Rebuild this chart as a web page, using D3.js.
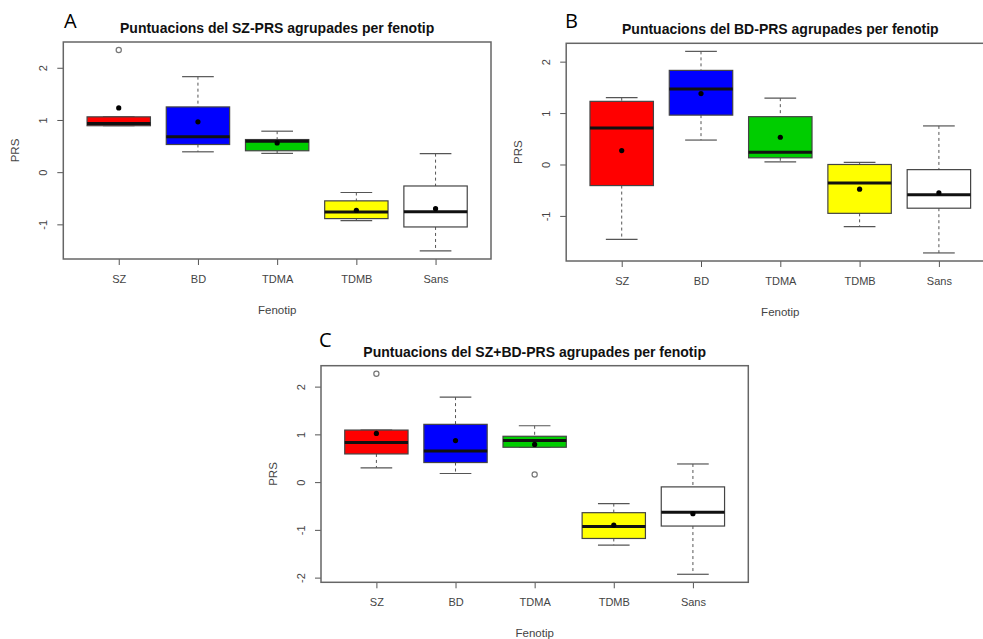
<!DOCTYPE html>
<html>
<head>
<meta charset="utf-8">
<script src="https://cdn.jsdelivr.net/npm/d3@7"></script>
<style>
  body { margin: 0; background: #fff; }
  svg { display: block; font-family: "Liberation Sans", Arial, sans-serif; }
</style>
</head>
<body>
<div id="chart"></div>
<script>
// groups on the x axis, same for the three panels
const groups = ["SZ", "BD", "TDMA", "TDMB", "Sans"];
const fills = ["#ff0000", "#0000ff", "#00cd00", "#ffff00", "#ffffff"];

// A: SZ-PRS
const szLow  = [0.89, 0.39, 0.36, -0.93, -1.51];
const szQ1   = [0.89, 0.53, 0.41, -0.89, -1.05];
const szMed  = [0.93, 0.68, 0.59, -0.765, -0.76];
const szQ3   = [1.06, 1.25, 0.625, -0.55, -0.265];
const szHigh = [1.06, 1.83, 0.785, -0.39, 0.355];
const szMean = [1.23, 0.965, 0.56, -0.73, -0.70];
const szOut  = [[2.34], [], [], [], []];

// B: BD-PRS
const bdLow  = [-1.455, 0.475, 0.05, -1.21, -1.72];
const bdQ1   = [-0.41, 0.96, 0.13, -0.95, -0.85];
const bdMed  = [0.71, 1.47, 0.24, -0.36, -0.59];
const bdQ3   = [1.228, 1.83, 0.93, 0.0, -0.10];
const bdHigh = [1.30, 2.20, 1.29, 0.04, 0.75];
const bdMean = [0.27, 1.38, 0.53, -0.48, -0.55];
const bdOut  = [[], [], [], [], []];

// C: SZ+BD-PRS
const mixLow  = [0.30, 0.18, 0.73, -1.32, -1.93];
const mixQ1   = [0.59, 0.41, 0.73, -1.18, -0.92];
const mixMed  = [0.83, 0.65, 0.87, -0.93, -0.63];
const mixQ3   = [1.09, 1.21, 0.96, -0.64, -0.10];
const mixHigh = [1.09, 1.78, 1.18, -0.45, 0.38];
const mixMean = [1.02, 0.87, 0.79, -0.90, -0.66];
const mixOut  = [[2.27], [], [0.16], [], []];

const yTicks = [-2, -1, 0, 1, 2];

const svg = d3.select("#chart")
  .append("svg")
    .attr("width", 983)
    .attr("height", 639);

function buildRows(low, q1, med, q3, high, mean, out) {
  return groups.map((g, i) => ({
    group: g, i: i + 1, fill: fills[i],
    low: low[i], q1: q1[i], med: med[i], q3: q3[i], high: high[i],
    mean: mean[i], out: out[i]
  }));
}

function drawPanel(p) {
  const rows = p.rows;
  const x0 = p.left, x1 = p.left + p.width, y0 = p.top, y1 = p.top + p.height;

  // y range like R: data extremes padded by 4%
  const lo = d3.min(rows, d => d3.min([d.low, ...d.out]));
  const hi = d3.max(rows, d => d3.max([d.high, ...d.out]));
  const pad = (hi - lo) * 0.04;
  const y = d3.scaleLinear().domain([lo - pad, hi + pad]).range([y1, y0]);
  const x = d3.scaleLinear().domain([0.3, 5.7]).range([x0, x1]);
  const boxW = (x(2) - x(1)) * 0.8;

  const g = svg.append("g");

  // x axis
  const xAxis = g.append("g")
    .attr("transform", `translate(0,${y1})`)
    .call(d3.axisBottom(x).tickValues([1, 2, 3, 4, 5])
      .tickFormat(i => groups[i - 1]).tickSize(6).tickPadding(10));
  xAxis.select(".domain").remove();
  xAxis.selectAll("line").attr("stroke", "#555");
  xAxis.selectAll("text").attr("fill", "#444").style("font-size", "11px")
    .style("font-family", "Liberation Sans, Arial, sans-serif");

  // y axis, labels turned like R's las = 0
  const yAxis = g.append("g")
    .attr("transform", `translate(${x0},0)`)
    .call(d3.axisLeft(y).tickValues(yTicks.filter(t => t >= y.domain()[0] && t <= y.domain()[1]))
      .tickFormat(d => String(d)).tickSize(6));
  yAxis.select(".domain").remove();
  yAxis.selectAll("line").attr("stroke", "#555");
  yAxis.selectAll("text")
    .attr("x", null).attr("dy", null)
    .attr("transform", "translate(-16,0) rotate(-90)")
    .attr("text-anchor", "middle")
    .attr("fill", "#444").style("font-size", "11px")
    .style("font-family", "Liberation Sans, Arial, sans-serif");

  const box = g.selectAll(".box")
    .data(rows)
    .join("g")
      .attr("class", "box");

  // whiskers
  box.append("line")
    .attr("x1", d => x(d.i)).attr("x2", d => x(d.i))
    .attr("y1", d => y(d.high)).attr("y2", d => y(d.q3))
    .attr("stroke", "#555").attr("stroke-dasharray", "3,3");
  box.append("line")
    .attr("x1", d => x(d.i)).attr("x2", d => x(d.i))
    .attr("y1", d => y(d.q1)).attr("y2", d => y(d.low))
    .attr("stroke", "#555").attr("stroke-dasharray", "3,3");
  box.append("line")
    .attr("x1", d => x(d.i) - boxW / 4).attr("x2", d => x(d.i) + boxW / 4)
    .attr("y1", d => y(d.high)).attr("y2", d => y(d.high))
    .attr("stroke", "#555").attr("stroke-width", 1.2);
  box.append("line")
    .attr("x1", d => x(d.i) - boxW / 4).attr("x2", d => x(d.i) + boxW / 4)
    .attr("y1", d => y(d.low)).attr("y2", d => y(d.low))
    .attr("stroke", "#555").attr("stroke-width", 1.2);

  // box
  box.append("rect")
    .attr("x", d => x(d.i) - boxW / 2)
    .attr("width", boxW)
    .attr("y", d => y(d.q3))
    .attr("height", d => y(d.q1) - y(d.q3))
    .attr("fill", d => d.fill)
    .attr("stroke", "#444").attr("stroke-width", 1.2);

  // median
  box.append("line")
    .attr("x1", d => x(d.i) - boxW / 2).attr("x2", d => x(d.i) + boxW / 2)
    .attr("y1", d => y(d.med)).attr("y2", d => y(d.med))
    .attr("stroke", "#111").attr("stroke-width", 3);

  // mean
  box.append("circle")
    .attr("cx", d => x(d.i)).attr("cy", d => y(d.mean))
    .attr("r", 2.6).attr("fill", "#000");

  // outliers
  box.selectAll(".out")
    .data(d => d.out.map(v => ({ i: d.i, v: v })))
    .join("circle")
      .attr("class", "out")
      .attr("cx", d => x(d.i)).attr("cy", d => y(d.v))
      .attr("r", 2.6).attr("fill", "none")
      .attr("stroke", "#777").attr("stroke-width", 1.2);

  // frame
  g.append("rect")
    .attr("x", x0).attr("y", y0)
    .attr("width", p.width).attr("height", p.height)
    .attr("fill", "none").attr("stroke", "#666").attr("stroke-width", 1.5);

  // titles
  g.append("text")
    .attr("x", (x0 + x1) / 2).attr("y", y0 - 9)
    .attr("text-anchor", "middle")
    .style("font-size", "14px").style("font-weight", "bold")
    .attr("fill", "#111")
    .text(p.title);
  g.append("text")
    .attr("x", (x0 + x1) / 2).attr("y", y1 + 55)
    .attr("text-anchor", "middle")
    .style("font-size", "11.5px").attr("fill", "#444")
    .text("Fenotip");
  g.append("text")
    .attr("transform", `translate(${x0 - 44},${(y0 + y1) / 2}) rotate(-90)`)
    .attr("text-anchor", "middle")
    .style("font-size", "11.5px").attr("fill", "#444")
    .text("PRS");

  // panel letter
  g.append("text")
    .attr("x", p.letterX).attr("y", p.letterY)
    .style("font-family", "Open Sans, sans-serif")
    .style("font-size", "20px").attr("fill", "#000")
    .text(p.letter);
}

drawPanel({
  left: 63.3, top: 42, width: 427.7, height: 217,
  title: "Puntuacions del SZ-PRS agrupades per fenotip",
  letter: "A", letterX: 64, letterY: 27.5,
  rows: buildRows(szLow, szQ1, szMed, szQ3, szHigh, szMean, szOut)
});

drawPanel({
  left: 566.2, top: 43.3, width: 428.2, height: 217.7,
  title: "Puntuacions del BD-PRS agrupades per fenotip",
  letter: "B", letterX: 565, letterY: 28.3,
  rows: buildRows(bdLow, bdQ1, bdMed, bdQ3, bdHigh, bdMean, bdOut)
});

drawPanel({
  left: 321, top: 365.7, width: 427.3, height: 216.6,
  title: "Puntuacions del SZ+BD-PRS agrupades per fenotip",
  letter: "C", letterX: 319, letterY: 347.3,
  rows: buildRows(mixLow, mixQ1, mixMed, mixQ3, mixHigh, mixMean, mixOut)
});
</script>
</body>
</html>
